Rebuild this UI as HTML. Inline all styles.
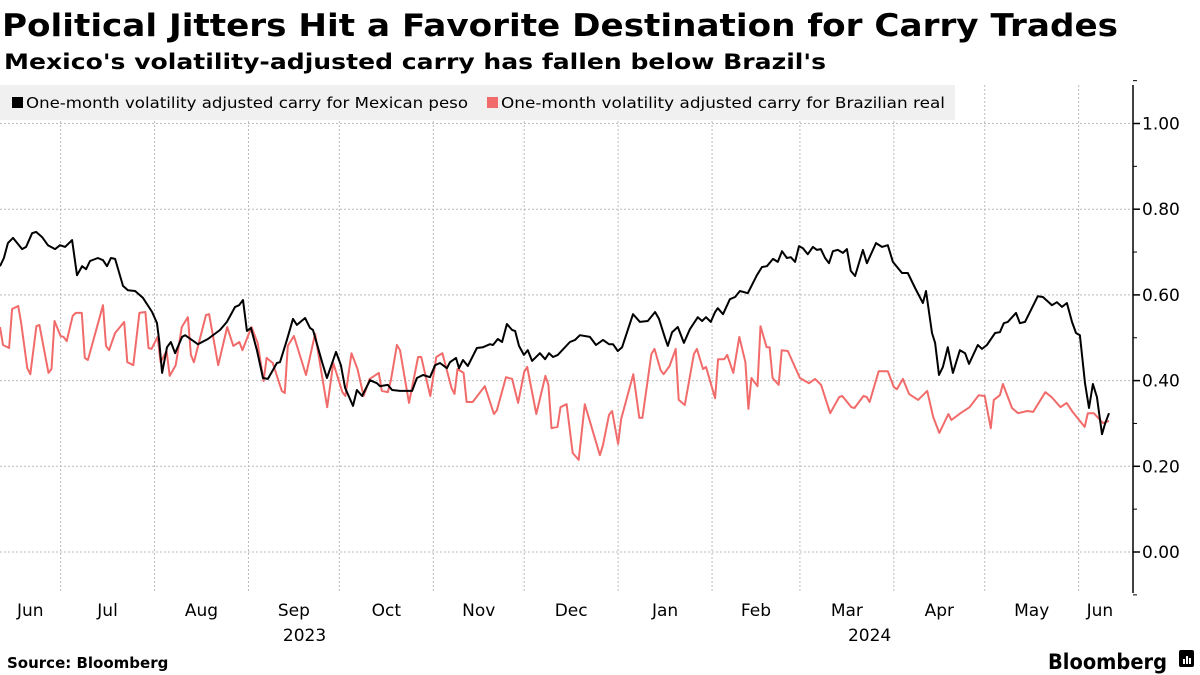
<!DOCTYPE html>
<html><head><meta charset="utf-8"><style>
html,body{margin:0;padding:0;background:#fff;width:1200px;height:675px;overflow:hidden}
svg{display:block}
text{font-family:"DejaVu Sans","Liberation Sans",sans-serif}
</style></head><body>
<svg id="chart" width="1200" height="675" viewBox="0 0 1200 675">
<text x="2" y="36" font-size="31" font-weight="bold" fill="#000" textLength="1116" lengthAdjust="spacingAndGlyphs">Political Jitters Hit a Favorite Destination for Carry Trades</text>
<text x="4" y="69" font-size="21" font-weight="bold" fill="#000" textLength="822" lengthAdjust="spacingAndGlyphs">Mexico's volatility-adjusted carry has fallen below Brazil's</text>
<g id="grid"></g>
<g id="series"></g>
<g id="axis"></g>
<g id="xaxis"></g>
<g>
<rect x="0" y="85" width="955" height="35" fill="#f0f0f0"/>
<g>
<rect x="12" y="97" width="11" height="11" fill="#000"/>
<text x="26" y="108" font-size="15" fill="#000" textLength="442" lengthAdjust="spacingAndGlyphs">One-month volatility adjusted carry for Mexican peso</text></g>
<g>
<rect x="487" y="97" width="11" height="11" fill="#f26b6b"/>
<text x="501" y="108" font-size="15" fill="#000" textLength="444" lengthAdjust="spacingAndGlyphs">One-month volatility adjusted carry for Brazilian real</text></g>
</g>
<text x="7" y="668" font-size="15" font-weight="bold" fill="#000">Source: Bloomberg</text>
<text x="1048" y="669" font-size="21" font-weight="bold" fill="#000" textLength="119" lengthAdjust="spacingAndGlyphs">Bloomberg</text>
<g><rect x="1179" y="650" width="15" height="17" rx="2" fill="#000"/><rect x="1183" y="659" width="2" height="5" fill="#fff"/><rect x="1186" y="656" width="2" height="8" fill="#fff"/><rect x="1189" y="658" width="2" height="6" fill="#fff"/></g>
</svg>
<script>
const NS="http://www.w3.org/2000/svg";
// days since 2023-06-11
const mxDays=[0,1.3,2.6,4.3,7.3,8.6,10.6,11.9,13.9,15.8,18.2,19.8,21.5,23.8,25.4,27.1,28.4,29.7,32.3,34,35.3,36.6,38,40.6,42.2,44.6,47.2,50.2,51.8,52.5,53.5,55.1,56.4,57.8,60.1,61.1,65.3,68.6,72.6,74.9,77.6,78.9,80.2,81.5,82.8,84.8,86.8,88.4,91.4,92.4,94.7,96.7,98,100.7,102.3,103.3,106.3,107.9,110.9,112.5,113.9,116.5,117.8,119.5,122.1,124.4,125.4,128,129.4,132,
136,137.6,139.6,141.9,143.6,145.2,147.5,148.5,150.5,151.5,152.8,154.4,157.4,159.4,161.7,162.7,164.3,165.7,167.3,169,170,171.3,172.9,174.2,175.6,178.2,179.9,181.2,182.5,184.1,188.1,189.8,191.4,194.7,196.7,199,201,202.3,203.9,205.3,208.9,211.2,213.8,216.2,217.5,219.5,220.4,221.8,223.7,225.7,227.7,230.3,231.7,233,234.6,236,236.9,238.6,240.9,242.6,244.2,246.8,
249.8,251.5,253.1,255.1,256.7,258.1,259.7,261,262.4,263.7,265,266.6,268.3,269.6,270.9,272.3,273.6,274.9,276.5,278.2,279.5,280.8,282.2,284.8,286.1,289.1,291.1,293,294.7,297.7,299.6,302,304.6,305.6,307.6,308.6,309.9,311.2,312.8,314.5,316.8,318.5,319.8,322.7,324.1,325.7,328.4,330,331.3,332.6,335.3,336.6,338.3,342.5,344.2,347.2,348.8,350.5,352.1,353.8,355.1,356.4,358.1,359.4,360.7,362,363.7,364.7,366];
const mxVals=[.667,.686,.721,.733,.707,.712,.744,.747,.735,.716,.707,.716,.712,.728,.646,.667,.660,.679,.686,.681,.667,.686,.684,.621,.611,.609,.593,.560,.534,.495,.418,.478,.490,.464,.502,.506,.485,.497,.518,.537,.572,.576,.588,.516,.523,.471,.406,.404,.441,.443,.495,.544,.530,.546,.523,.518,.443,.406,.467,.436,.383,.341,.378,.364,.401,.394,.387,.390,.378,.376,
.376,.406,.413,.408,.436,.441,.429,.443,.453,.429,.448,.434,.476,.478,.485,.483,.497,.490,.532,.518,.516,.481,.460,.471,.446,.464,.450,.464,.455,.460,.490,.495,.506,.502,.483,.495,.485,.485,.469,.478,.555,.537,.539,.560,.544,.499,.481,.513,.525,.488,.520,.548,.539,.548,.537,.560,.569,.555,.590,.595,.609,.604,
.646,.665,.667,.684,.677,.702,.686,.688,.677,.714,.709,.695,.712,.705,.707,.686,.674,.702,.705,.698,.707,.656,.644,.705,.674,.721,.712,.716,.677,.651,.651,.616,.581,.609,.511,.488,.413,.432,.478,.418,.471,.464,.439,.483,.474,.483,.511,.513,.534,.537,.558,.534,.537,.597,.595,.576,.583,.572,.581,.537,.511,.506,.394,.336,.392,.362,.275,.299,.324];
const brDays=[0,1,3,4,6,7,9,10,12,13,16,17,18,20,21,22,24,25,27,28,29,34,35,36,38,41,42,44,46,48,49,50,52,53,55,56,58,60,62,63,64,68,69,72,75,77,79,80,83,85,87,88,90,93,94,95,97,101,104,108,110,113,114,116,118,120,122,125,126,128,129,131,132,
135,138,139,142,144,146,149,150,151,153,154,156,160,161,163,164,167,169,171,173,174,177,180,181,182,184,185,187,189,191,193,198,199,201,202,204,205,209,211,212,215,216,218,219,221,223,224,226,229,230,232,233,236,237,239,240,242,244,246,247,248,250,251,253,254,255,257,258,260,
264,267,269,271,274,277,278,281,282,285,286,287,290,293,295,296,298,300,303,306,308,310,313,314,317,320,323,325,327,328,330,331,334,336,339,341,345,347,350,352,354,358,359,361,364,366];
const brVals=[.525,.483,.476,.567,.574,.534,.429,.415,.527,.530,.418,.427,.539,.504,.502,.492,.551,.558,.558,.453,.448,.576,.481,.471,.511,.537,.443,.436,.558,.560,.476,.474,.502,.443,.469,.411,.436,.525,.548,.460,.443,.553,.555,.436,.525,.481,.490,.471,.525,.488,.399,.453,.441,.376,.371,.481,.504,.413,.509,.338,.441,.373,.364,.464,.427,.364,.404,.418,.376,.373,.401,.483,.471,
.348,.455,.455,.364,.455,.464,.383,.369,.427,.418,.350,.350,.387,.366,.322,.331,.408,.404,.348,.420,.432,.322,.411,.390,.289,.292,.338,.345,.231,.215,.345,.226,.250,.320,.329,.252,.310,.415,.313,.313,.462,.474,.425,.415,.434,.474,.355,.343,.462,.474,.427,.432,.359,.450,.450,.460,.418,.502,.443,.334,.406,.387,.527,.478,.478,.406,.390,.471,.469,
.406,.394,.404,.390,.324,.362,.364,.338,.336,.364,.362,.350,.422,.422,.385,.380,.404,.369,.355,.376,.315,.278,.322,.308,.324,.338,.366,.364,.289,.355,.366,.392,.336,.324,.329,.327,.373,.362,.338,.348,.327,.292,.324,.324,.301,.306];
const yTicks=[0,0.2,0.4,0.6,0.8,1.0];
const yTickLabels=["0.00","0.20","0.40","0.60","0.80","1.00"];
const yMinor=[-0.1,0.1,0.3,0.5,0.7,0.9,1.1];
const monthStarts=[20,51,82,112,143,173,204,235,264,295,325,356];
const monthLabels=["Jun","Jul","Aug","Sep","Oct","Nov","Dec","Jan","Feb","Mar","Apr","May","Jun"];
const monthLabelDays=[10,35.5,66.5,97,127.5,158,188.5,219.5,249.5,279.5,310,340.5,363];
const yearLabels=["2023","2024"];
const yearLabelDays=[100.5,287];

const plotRight=1133, plotTop=85, plotBottom=593;
const x=d=>d*3.03;
const y=v=>552-v*428.5;
function mk(tag,attrs,parent){const e=document.createElementNS(NS,tag);for(const k in attrs)e.setAttribute(k,attrs[k]);parent.appendChild(e);return e;}
const grid=document.getElementById('grid'),series=document.getElementById('series'),axis=document.getElementById('axis'),xaxis=document.getElementById('xaxis');
yTicks.forEach((v,i)=>{
  const l=mk('line',{x1:0,x2:plotRight,y1:y(v),y2:y(v),stroke:'#bbb','stroke-width':1,'stroke-dasharray':'2,2'},grid);
  
  
  const t=mk('line',{x1:plotRight,x2:plotRight+7,y1:y(v),y2:y(v),stroke:'#000','stroke-width':1.5},axis);
  
  
  const tx=mk('text',{x:plotRight+9,y:y(v)+6,'font-size':17,fill:'#000'},axis);
  tx.textContent=yTickLabels[i];
  
  
});
yMinor.forEach(v=>{
  const t=mk('line',{x1:plotRight,x2:plotRight+4,y1:y(v),y2:y(v),stroke:'#000','stroke-width':1},axis);
  
  
});
const ax=mk('line',{x1:plotRight,x2:plotRight,y1:plotTop,y2:plotBottom,stroke:'#000','stroke-width':1.5},axis);


monthStarts.forEach(d=>{
  const l=mk('line',{x1:x(d),x2:x(d),y1:plotTop,y2:plotBottom,stroke:'#bbb','stroke-width':1,'stroke-dasharray':'2,2'},grid);
  
  
});
monthLabels.forEach((m,i)=>{
  const t=mk('text',{x:x(monthLabelDays[i]),y:616,'font-size':17,'text-anchor':'middle',fill:'#000'},xaxis);
  t.textContent=m;
  
  
});
yearLabels.forEach((m,i)=>{
  const t=mk('text',{x:x(yearLabelDays[i]),y:641,'font-size':17,'text-anchor':'middle',fill:'#000'},xaxis);
  t.textContent=m;
  
  
});
function line(days,vals,color,name){
  const d=days.map((dd,i)=>(i?'L':'M')+x(dd).toFixed(1)+','+y(vals[i]).toFixed(1)).join('');
  const p=mk('path',{d:d,fill:'none',stroke:color,'stroke-width':2,'stroke-linejoin':'round'},series);
  
  
}
line(brDays,brVals,'#f26b6b','brazil-carry-line');
line(mxDays,mxVals,'#000','mexico-carry-line');
</script>
</body></html>
